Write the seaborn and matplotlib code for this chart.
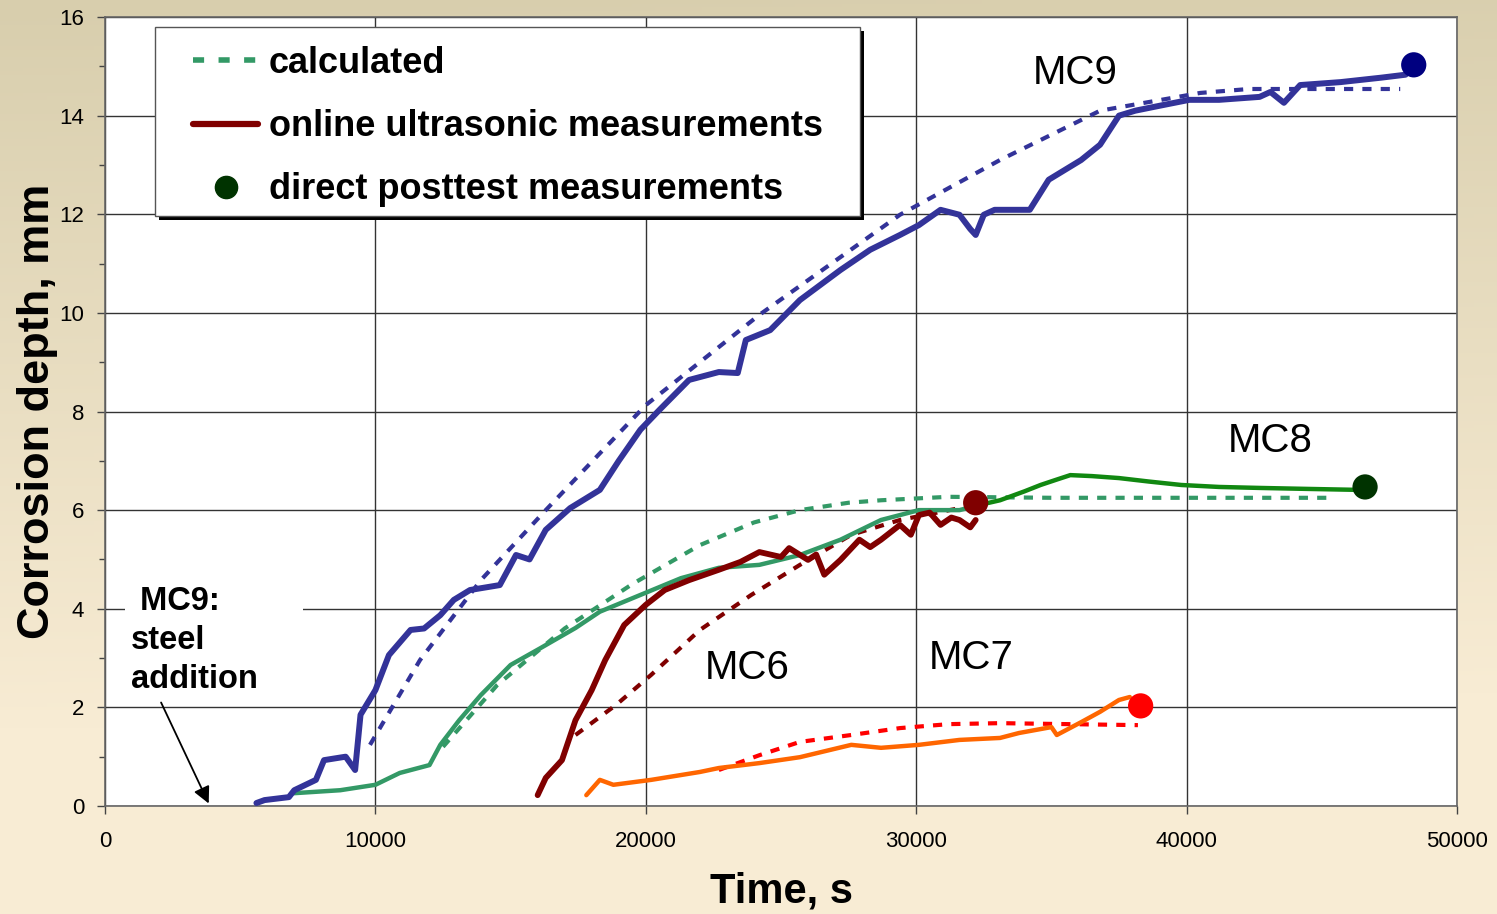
import numpy as np
import pandas as pd
import matplotlib
matplotlib.use("Agg")
import matplotlib.pyplot as plt
import seaborn as sns
from matplotlib.lines import Line2D
from matplotlib.patches import Rectangle

# ---------------- data (time in s, depth in mm) ----------------
mc9_meas_t = [5600, 5900, 6800, 7000, 7800, 8100, 8900, 9250, 9450, 10000, 10500, 11300, 11800,
              12400, 12900, 13500, 14600, 15200, 15700, 16300, 17200, 18300, 19000, 19800, 20500,
              21600, 22700, 23400, 23700, 24600, 25700, 27200, 28300, 29400, 30100, 30900, 31600,
              32000, 32200, 32500, 32900, 34200, 34900, 36100, 36800, 37500, 38100, 39000, 40100,
              41200, 42700, 43100, 43600, 44200, 45700, 47200, 48100]
mc9_meas_d = [0.06, 0.12, 0.18, 0.32, 0.53, 0.93, 1.0, 0.73, 1.85, 2.35, 3.06, 3.57, 3.6,
              3.87, 4.18, 4.38, 4.48, 5.09, 5.0, 5.6, 6.04, 6.41, 7.0, 7.63, 8.03,
              8.64, 8.8, 8.78, 9.45, 9.65, 10.26, 10.87, 11.28, 11.58, 11.78, 12.09, 11.99,
              11.7, 11.58, 11.99, 12.09, 12.09, 12.7, 13.1, 13.41, 14.0, 14.1, 14.2, 14.32,
              14.32, 14.38, 14.48, 14.26, 14.62, 14.68, 14.77, 14.83]
mc9_calc_t = [9800, 11650, 13900, 16300, 20000, 24200, 29400, 33100, 36800, 40500, 42300, 47900]
mc9_calc_d = [1.24, 2.96, 4.58, 6.0, 8.13, 9.96, 11.99, 13.1, 14.1, 14.46, 14.54, 14.54]

mc8_meas_t = [7000, 8700, 10000, 10900, 12000, 12400, 13100, 13900, 15000, 16100, 17400, 18300,
              19800, 21300, 22700, 24200, 25700, 27200, 28700, 30100, 31600, 32300]
mc8_meas_d = [0.26, 0.32, 0.43, 0.67, 0.83, 1.24, 1.74, 2.25, 2.86, 3.2, 3.61, 3.94,
              4.28, 4.62, 4.83, 4.89, 5.09, 5.4, 5.8, 6.0, 6.0, 6.1]
mc8_late_t = [32300, 33100, 34000, 34600, 35200, 35700, 36500, 37500, 38600, 39800, 41200, 42700, 44500, 46400]
mc8_late_d = [6.1, 6.2, 6.38, 6.51, 6.62, 6.71, 6.69, 6.65, 6.58, 6.51, 6.47, 6.45, 6.43, 6.41]
mc8_calc_t = [12500, 14500, 17000, 19500, 22000, 24000, 25700, 27500, 28700, 31200, 35000, 45300]
mc8_calc_d = [1.2, 2.45, 3.6, 4.5, 5.29, 5.75, 6.0, 6.15, 6.2, 6.27, 6.25, 6.25]

mc6_meas_t = [16000, 16300, 16900, 17400, 18000, 18500, 19200, 20000, 20700, 21600, 22700, 23500,
              24200, 25000, 25300, 26000, 26300, 26600, 27200, 27900, 28300, 28700, 29400, 29800,
              30100, 30500, 30900, 31300, 31600, 32000, 32200]
mc6_meas_d = [0.22, 0.57, 0.93, 1.74, 2.35, 2.96, 3.67, 4.08, 4.38, 4.58, 4.79, 4.95,
              5.15, 5.05, 5.23, 4.99, 5.1, 4.69, 4.99, 5.4, 5.25, 5.4, 5.7, 5.5,
              5.9, 5.95, 5.7, 5.85, 5.8, 5.65, 5.8]
mc6_calc_t = [17400, 18900, 20200, 22000, 23900, 25700, 27600, 29400, 31600, 32300]
mc6_calc_d = [1.44, 2.05, 2.66, 3.57, 4.28, 4.89, 5.5, 5.8, 6.04, 6.1]

mc7_meas_t = [17800, 18300, 18800, 20200, 22000, 22700, 24200, 25700, 27600, 28700, 30100, 31600,
              33100, 33800, 35000, 35200, 36100, 36800, 37500, 37900]
mc7_meas_d = [0.22, 0.53, 0.43, 0.53, 0.69, 0.77, 0.87, 0.99, 1.24, 1.18, 1.24, 1.34,
              1.38, 1.48, 1.6, 1.44, 1.7, 1.91, 2.15, 2.21]
mc7_calc_t = [22700, 24200, 25700, 27600, 29400, 31200, 33100, 38200]
mc7_calc_d = [0.73, 1.03, 1.3, 1.44, 1.58, 1.66, 1.68, 1.64]

post_t = [48400, 46600, 32200, 38300]
post_d = [15.03, 6.47, 6.15, 2.03]
post_colors = ["#000080", "#003300", "#800000", "#FF0000"]

series_labels = ["MC9", "MC8", "MC6", "MC7"]
label_t = [35870, 43080, 23740, 32030]
label_d = [14.87, 7.40, 2.80, 3.0]

x_ticks = [0, 10000, 20000, 30000, 40000, 50000]
y_ticks = [0, 2, 4, 6, 8, 10, 12, 14, 16]

# ---------------- figure ----------------
sns.set_theme(style="white")
plt.rcParams["font.family"] = ["Liberation Sans", "DejaVu Sans"]
for k in ["text.color", "axes.labelcolor", "xtick.color", "ytick.color"]:
    plt.rcParams[k] = "black"

W, H = 1497, 914
fig = plt.figure(figsize=(W / 100, H / 100), dpi=100)

# background gradient
bg = fig.add_axes([0, 0, 1, 1], zorder=-5)
top = np.array([0xD8, 0xCE, 0xAD]) / 255
bot = np.array([0xF8, 0xEC, 0xD4]) / 255
yy = np.linspace(0, 1, 256)[:, None, None]
xx = np.linspace(0, 1, 64)[None, :, None]
f = np.clip(yy * 1.25 + xx * 0.05, 0, 1)
grad = top * (1 - f) + bot * f
bg.imshow(grad, aspect="auto", extent=[0, 1, 0, 1], origin="upper")
bg.axis("off")

AX_L, AX_T, AX_W, AX_H = 105, 17, 1352, 789
ax = fig.add_axes([AX_L / W, 1 - (AX_T + AX_H) / H, AX_W / W, AX_H / H])
ax.set_facecolor("white")

def px2ax(x, y):
    return (x - AX_L) / AX_W, (AX_T + AX_H - y) / AX_H

dash = (0, (2.2, 2.2))

def line(t, d, color, lw, ls="-", z=3):
    sns.lineplot(x=t, y=d, ax=ax, color=color, lw=lw, linestyle=ls, sort=False,
                 estimator=None, zorder=z, legend=False)

# calculated
line(mc9_calc_t, mc9_calc_d, "#333399", 3.0, dash)
line(mc8_calc_t, mc8_calc_d, "#339966", 3.0, dash)
line(mc6_calc_t, mc6_calc_d, "#800000", 3.0, dash)
line(mc7_calc_t, mc7_calc_d, "#FF0000", 3.0, dash)
# measured
line(mc8_meas_t, mc8_meas_d, "#339966", 3.2, "-", 4)
line(mc8_late_t, mc8_late_d, "#118811", 3.2, "-", 4)
line(mc7_meas_t, mc7_meas_d, "#FF6600", 3.2, "-", 4)
line(mc6_meas_t, mc6_meas_d, "#800000", 4.2, "-", 4)
line(mc9_meas_t, mc9_meas_d, "#333399", 4.3, "-", 4)

sns.scatterplot(x=post_t, y=post_d, ax=ax, hue=series_labels, palette=post_colors,
                s=330, edgecolor="none", legend=False, zorder=6)

for lab, t, d in zip(series_labels, label_t, label_d):
    ax.text(t, d, lab, fontsize=29, ha="center", va="center", zorder=7)

# annotation
x0, y0 = px2ax(125, 700)
x1, y1 = px2ax(303, 588)
ax.add_patch(Rectangle((x0, y0), x1 - x0, y1 - y0, transform=ax.transAxes,
                       facecolor="white", edgecolor="none", zorder=2))
tx, ty = px2ax(131, 586)
ax.text(tx, ty, " MC9:\nsteel\naddition", fontsize=23.5, fontweight="bold",
        ha="left", va="top", linespacing=1.33, zorder=7, transform=ax.transAxes)
ax.annotate("", xy=(3880, 0), xytext=(2030, 2.15),
            arrowprops=dict(arrowstyle="-|>", color="black", lw=1.3, mutation_scale=25), zorder=7)

ax.set_xlim(0, 50000)
ax.set_ylim(0, 16)
ax.set_xticks(x_ticks)
ax.set_yticks(y_ticks)
ax.set_yticks(range(0, 17), minor=True)
ax.set_xticklabels([str(v) for v in x_ticks], fontsize=16)
ax.set_yticklabels([str(v) for v in y_ticks], fontsize=16)
ax.tick_params(axis="both", which="major", direction="out", length=6, width=1, color="#444444",
               bottom=True, left=True)
ax.tick_params(axis="x", which="major", pad=12)
ax.tick_params(axis="y", which="major", pad=9)
ax.tick_params(axis="y", which="minor", direction="out", length=4, width=1, color="#444444", left=True)
ax.grid(True, which="major", color="#333333", lw=1.0, zorder=1)
ax.set_axisbelow(True)
for s in ["left", "bottom", "right", "top"]:
    ax.spines[s].set_color("#666666")
    ax.spines[s].set_linewidth(1.2)

ax.set_xlabel("Time, s", fontsize=30, fontweight="bold", labelpad=14)
ax.set_ylabel("Corrosion depth, mm", fontsize=32.5, fontweight="bold", labelpad=1)

# legend frame with hard shadow
lx0, ly0 = px2ax(155, 216)
lx1, ly1 = px2ax(860, 27)
sx, sy = 4 / AX_W, 4 / AX_H
ax.add_patch(Rectangle((lx0 + sx, ly0 - sy), lx1 - lx0, ly1 - ly0, transform=ax.transAxes,
                       facecolor="black", edgecolor="none", zorder=8))
ax.add_patch(Rectangle((lx0, ly0), lx1 - lx0, ly1 - ly0, transform=ax.transAxes,
                       facecolor="white", edgecolor="#555555", lw=1.0, zorder=8.1))

handles = [Line2D([], [], color="#339966", lw=4, linestyle=(0, (2, 2.6))),
           Line2D([], [], color="#800000", lw=4.5),
           Line2D([], [], color="#003300", lw=0, marker="o", markersize=16)]
la_x, la_y = px2ax(193, 46)
leg = ax.legend(handles, ["calculated", "online ultrasonic measurements", "direct posttest measurements"],
                loc="upper left", bbox_to_anchor=(la_x, la_y),
                prop=dict(size=26, weight="bold"), frameon=False,
                handlelength=1.8, handletextpad=0.3,
                labelspacing=0.78, borderpad=0, borderaxespad=0)
leg.set_zorder(9)

fig.savefig("out.png", dpi=100)
